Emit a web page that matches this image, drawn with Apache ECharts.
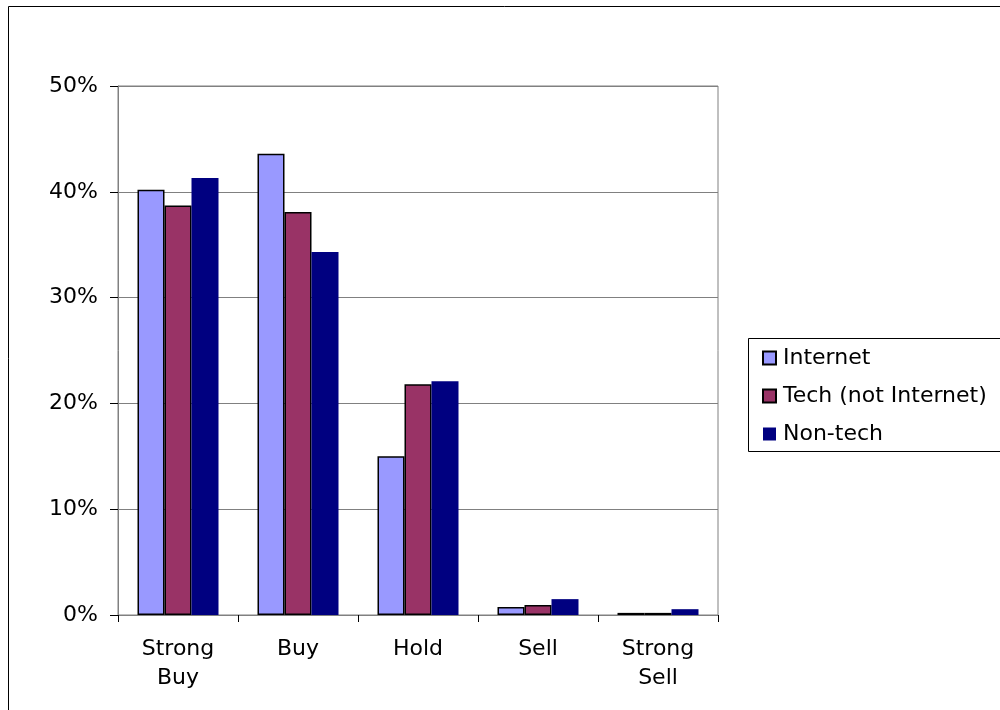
<!DOCTYPE html>
<html><head><meta charset="utf-8">
<script src="https://cdn.jsdelivr.net/npm/echarts@6/dist/echarts.min.js"></script>
<style>html,body{margin:0;padding:0;background:#fff}#c{width:1000px;height:710px}</style>
</head><body><div id="c"></div>
<script>
const categories = ['Strong\nBuy', 'Buy', 'Hold', 'Sell', 'Strong\nSell'];
const seriesNames = ['Internet', 'Tech (not Internet)', 'Non-tech'];
const internet = [40.2, 43.6, 15.0, 0.75, 0.2];
const techNotInternet = [38.7, 38.1, 21.8, 0.95, 0.2];
const nonTech = [41.3, 34.3, 22.1, 1.5, 0.55];
const yTicks = [0, 10, 20, 30, 40, 50];

const font = 'DejaVu Sans, Liberation Sans, Arial, sans-serif';
const chart = echarts.init(document.getElementById('c'), null, {renderer: 'canvas'});
const colors = ['#9999ff', '#993366', '#000080'];
const datas = [internet, techNotInternet, nonTech];
chart.setOption({
  animation: false,
  backgroundColor: '#fff',
  graphic: [
    {type: 'rect', shape: {x: 8.5, y: 6.5, width: 1100, height: 800}, style: {fill: 'none', stroke: '#000', lineWidth: 1}, z: -10},
    {type: 'rect', shape: {x: 748.5, y: 338.5, width: 300, height: 113}, style: {fill: '#fff', stroke: '#000', lineWidth: 1}, z: -5}
  ],
  grid: {left: 118, top: 86, width: 600, height: 529, show: true, borderColor: '#808080', borderWidth: 1, backgroundColor: 'transparent'},
  legend: {
    orient: 'vertical', left: 757, top: 341, itemGap: 14, itemWidth: 13, itemHeight: 13,
    textStyle: {fontFamily: font, fontSize: 22, lineHeight: 24, color: '#000', padding: [0, 0, 0, 2]},
    data: seriesNames, icon: 'rect'
  },
  xAxis: {
    type: 'category', data: categories,
    axisLine: {lineStyle: {color: '#808080', width: 1}},
    axisTick: {show: true, length: 7, lineStyle: {color: '#000'}},
    axisLabel: {fontFamily: font, fontSize: 22, color: '#000', margin: 20, lineHeight: 29}
  },
  yAxis: {
    type: 'value', min: 0, max: 50, interval: 10,
    axisLine: {show: true, lineStyle: {color: '#808080', width: 1}},
    axisTick: {show: true, length: 8, lineStyle: {color: '#000'}},
    splitLine: {lineStyle: {color: '#808080', width: 1}},
    axisLabel: {fontFamily: font, fontSize: 22, color: '#000', margin: 20,
      formatter: v => yTicks.includes(v) ? v + '%' : ''}
  },
  series: datas.map((d, i) => ({
    name: seriesNames[i], type: 'bar', data: d,
    barGap: '0%', barCategoryGap: '32.5%',
    itemStyle: {color: colors[i], borderColor: i < 2 ? '#000' : colors[i], borderWidth: i < 2 ? 1.5 : 0}
  }))
});
</script></body></html>
